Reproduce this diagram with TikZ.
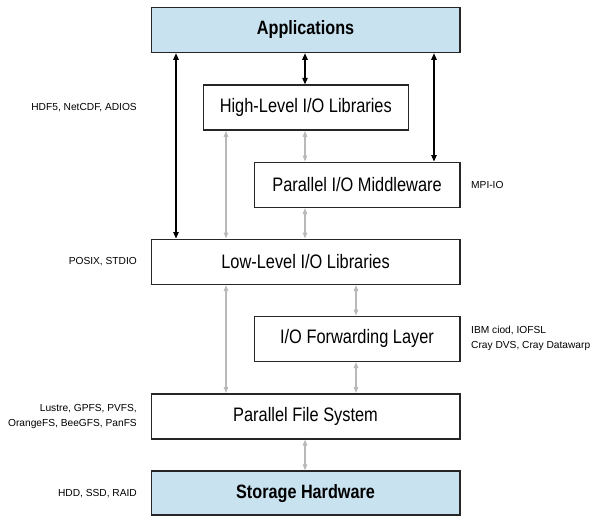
\documentclass[tikz,border=0pt]{standalone}
\usepackage{fontspec}
\setmainfont{Liberation Sans}
\newfontfamily\condfont[FakeStretch=0.84]{Liberation Sans}
\usetikzlibrary{arrows.meta}
\definecolor{hwblue}{RGB}{200,226,240}
\definecolor{edge}{RGB}{38,38,38}
\definecolor{lgray}{RGB}{185,185,185}
\tikzset{
  layer/.style={draw=edge, line width=1.6pt, fill=white, anchor=north west,
    minimum height=45pt, inner sep=0pt, font=\condfont\fontsize{19.5}{22}\selectfont},
  hwlayer/.style={layer, fill=hwblue, font=\condfont\fontsize{19.3}{22}\selectfont\bfseries},
  note/.style={font=\fontsize{10.2}{15}\selectfont, inner sep=0pt},
  blkarrow/.style={draw=black, line width=1.1pt, {Triangle[length=6.5pt,width=5.5pt]}-{Triangle[length=6.5pt,width=5.5pt]}},
  grayarrow/.style={draw=lgray, line width=1.1pt, {Triangle[length=6pt,width=4.5pt]}-{Triangle[length=6pt,width=4.5pt]}}
}
\begin{document}
\begin{tikzpicture}[x=1pt,y=-1pt]
\useasboundingbox (0,0) rectangle (591,516);
% layers
\node[hwlayer, minimum width=308.5pt] (apps) at (150.5,6.7) {Applications};
\node[layer, minimum width=205pt] (hl) at (202.5,84.3) {High-Level I/O Libraries};
\node[layer, minimum width=205.5pt] (mw) at (253.5,161.5) {Parallel I/O Middleware};
\node[layer, minimum width=308.5pt] (ll) at (150.5,238.5) {Low-Level I/O Libraries};
\node[layer, minimum width=205.5pt] (iof) at (253.5,315.5) {I/O Forwarding Layer};
\node[layer, minimum width=308.5pt] (pfs) at (150.5,393) {Parallel File System};
\node[hwlayer, minimum width=308.5pt, minimum height=44pt] (sh) at (150.5,470.3) {Storage Hardware};
% column coordinates
\coordinate (cA) at (176,0);
\coordinate (cB) at (305,0);
\coordinate (cC) at (434,0);
\coordinate (cD) at (226,0);
\coordinate (cE) at (356,0);
\coordinate (lx) at (137,0);
\coordinate (rx) at (471,0);
% black arrows
\draw[blkarrow] (cA |- apps.south) -- (cA |- ll.north);
\draw[blkarrow] (cB |- apps.south) -- (cB |- hl.north);
\draw[blkarrow] (cC |- apps.south) -- (cC |- mw.north);
% gray arrows
\draw[grayarrow] (cD |- hl.south) -- (cD |- ll.north);
\draw[grayarrow] (cB |- hl.south) -- (cB |- mw.north);
\draw[grayarrow] (cB |- mw.south) -- (cB |- ll.north);
\draw[grayarrow] (cD |- ll.south) -- (cD |- pfs.north);
\draw[grayarrow] (cE |- ll.south) -- (cE |- iof.north);
\draw[grayarrow] (cE |- iof.south) -- (cE |- pfs.north);
\draw[grayarrow] (cB |- pfs.south) -- (cB |- sh.north);
% notes
\node[note, anchor=east] (n1) at (lx |- hl.center) {HDF5, NetCDF, ADIOS};
\node[note, anchor=west] (n2) at (rx |- mw.center) {MPI-IO};
\node[note, anchor=east] (n3) at (lx |- ll.center) {POSIX, STDIO};
\node[note, anchor=west, align=left] (n4) at (rx |- iof.center) {IBM ciod, IOFSL\\Cray DVS, Cray Datawarp};
\node[note, anchor=east, align=right] (n5) at (lx |- pfs.center) {Lustre, GPFS, PVFS,\\OrangeFS, BeeGFS, PanFS};
\node[note, anchor=east] (n6) at (lx |- sh.center) {HDD, SSD, RAID};
\end{tikzpicture}
\end{document}
